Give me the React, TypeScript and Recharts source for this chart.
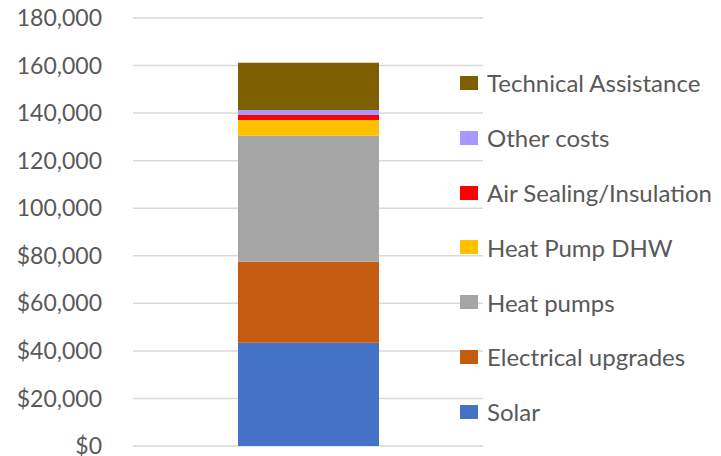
import { BarChart, Bar, CartesianGrid, XAxis, YAxis } from "recharts";

const categories = ["Total"];
const seriesNames = [
  "Solar",
  "Electrical upgrades",
  "Heat pumps",
  "Heat Pump DHW",
  "Air Sealing/Insulation",
  "Other costs",
  "Technical Assistance",
];
const seriesValues = [43400, 34100, 53000, 6600, 2100, 2100, 19900];
const seriesColors = ["#4472C4", "#C55A11", "#A5A5A5", "#FFC000", "#FF0000", "#A797FF", "#7F6000"];
const yTicks = [0, 20000, 40000, 60000, 80000, 100000, 120000, 140000, 160000, 180000];

const data = categories.map((name) => {
  const row: Record<string, string | number> = { name };
  seriesNames.forEach((s, i) => {
    row[s] = seriesValues[i];
  });
  return row;
});

const FONT = "Lato, 'Liberation Sans', sans-serif";
const TEXT = "#595959";

const formatTick = (v: number) => {
  const s = v.toLocaleString("en-US");
  return v < 100000 ? `$${s}` : s;
};

// legend is drawn top-down in reverse stack order, like Excel does
const LegendBox = () => {
  const items = seriesNames.map((name, i) => ({ name, color: seriesColors[i] })).reverse();
  return (
    <div
      style={{
        position: "absolute",
        left: 460,
        top: 55.6,
        width: 261,
        fontFamily: FONT,
        fontSize: 24,
        color: TEXT,
      }}
    >
      {items.map((p) => (
        <div key={p.name} style={{ height: 54.8, display: "flex", alignItems: "center" }}>
          <span
            style={{
              display: "inline-block",
              width: 18,
              height: 14,
              background: p.color,
              marginRight: 9,
            }}
          />
          <span style={{ whiteSpace: "nowrap" }}>{p.name}</span>
        </div>
      ))}
    </div>
  );
};

export default function App() {
  return (
    <div style={{ position: "absolute", left: 0, top: 0, width: 721, height: 456, background: "#fff" }}>
      <BarChart
        width={721}
        height={456}
        data={data}
        margin={{ top: 18, right: 238, bottom: 10, left: 0 }}
      >
        <CartesianGrid vertical={false} stroke="#d9d9d9" strokeWidth={1.5} />
        <XAxis dataKey="name" hide />
        <YAxis
          width={133}
          domain={[0, 180000]}
          ticks={yTicks}
          tickFormatter={formatTick}
          axisLine={false}
          tickLine={false}
          tickSize={0}
          tickMargin={31}
          interval={0}
          tick={{ fill: TEXT, fontSize: 23, fontFamily: FONT }}
        />
        {seriesNames.map((s, i) => (
          <Bar key={s} dataKey={s} stackId="a" fill={seriesColors[i]} barSize={141} isAnimationActive={false} />
        ))}
      </BarChart>
      <LegendBox />
    </div>
  );
}
